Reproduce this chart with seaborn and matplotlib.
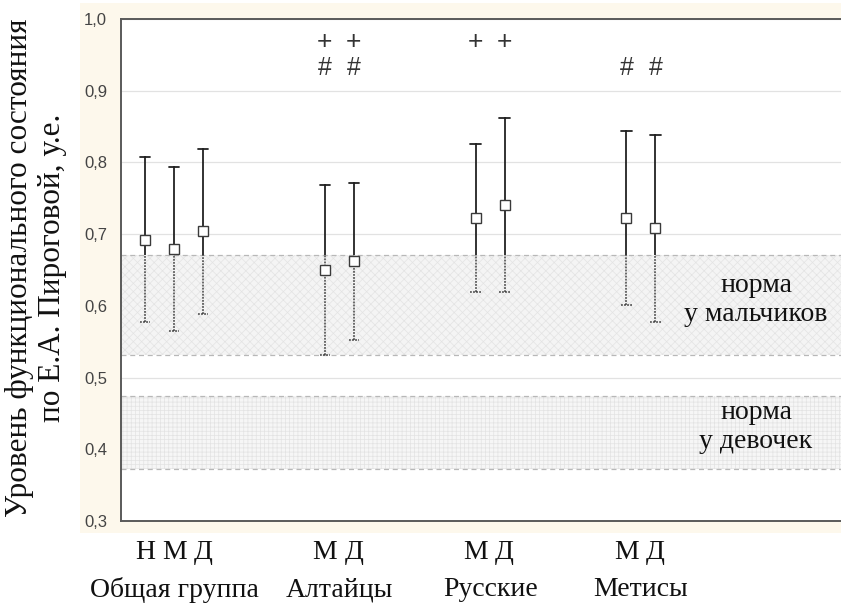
import numpy as np
import pandas as pd
import matplotlib
matplotlib.use("Agg")
import matplotlib.pyplot as plt
from matplotlib.lines import Line2D
from matplotlib.patches import Rectangle
import seaborn as sns

# ---- data -------------------------------------------------------------
groups = ["Общая группа", "Общая группа", "Общая группа",
          "Алтайцы", "Алтайцы", "Русские", "Русские", "Метисы", "Метисы"]
sexes = ["Н", "М", "Д", "М", "Д", "М", "Д", "М", "Д"]
means = [0.692, 0.679, 0.705, 0.650, 0.662, 0.723, 0.741, 0.723, 0.708]
lower = [0.577, 0.565, 0.588, 0.531, 0.552, 0.619, 0.619, 0.601, 0.578]
upper = [0.807, 0.794, 0.819, 0.768, 0.771, 0.826, 0.862, 0.844, 0.838]
marks_plus = ["", "", "", "+", "+", "+", "+", "", ""]
marks_hash = ["", "", "", "#", "#", "", "", "#", "#"]
group_names = ["Общая группа", "Алтайцы", "Русские", "Метисы"]

norm_boys = (0.531, 0.671)
norm_girls = (0.372, 0.475)
y_ticks = [0.3, 0.4, 0.5, 0.6, 0.7, 0.8, 0.9, 1.0]

# ---- positions: one slot per item, extra gap between groups -------------
group_idx = [group_names.index(g) for g in groups]
pos = [i + 3.2 * g for i, g in enumerate(group_idx)]

rows = []
for p, lo, m, hi in zip(pos, lower, means, upper):
    for v in (lo, m, hi):
        rows.append({"pos": p, "value": v})
df = pd.DataFrame(rows)

# ---- figure -------------------------------------------------------------
sns.set_theme(style="white")
plt.rcParams["font.family"] = ["Liberation Sans", "DejaVu Sans"]
plt.rcParams["hatch.color"] = "#e3e3e3"
plt.rcParams["hatch.linewidth"] = 0.5
W, H = 841, 608
fig = plt.figure(figsize=(W / 100, H / 100), dpi=100)
fig.patch.set_facecolor("white")
fig.patch.set_linewidth(0)

# cream panel behind the axes
fig.patches.append(Rectangle((80 / W, (H - 533) / H), (W - 80) / W, 530 / H,
                             transform=fig.transFigure, facecolor="#fdf8ec",
                             edgecolor="none", linewidth=0, zorder=0))

# plotting area reaches the right border of the figure
right_px = 841
ax = fig.add_axes([121 / W, (H - 521) / H, (right_px - 121) / W, 502 / H])
ax.set_zorder(2)
ax.set_facecolor("white")
x_lo, x_hi = -0.83, (right_px - 145) / 29

# normative bands (drawn without side edges)
band_kw = dict(edgecolor="none", linewidth=0)
ax.axhspan(*norm_boys, facecolor="#f4f4f4", zorder=1, **band_kw)
ax.axhspan(*norm_boys, facecolor="none", hatch="xxxx", zorder=1,
           edgecolor="#e3e3e3", linewidth=0)
ax.axhspan(*norm_girls, facecolor="#f6f6f6", zorder=1, **band_kw)
ax.axhspan(*norm_girls, facecolor="none", hatch="++++", zorder=1,
           edgecolor="#e3e3e3", linewidth=0)
for lo_hi in (norm_boys, norm_girls):
    for yv in lo_hi:
        ax.axhline(yv, color="#b8b8b8", linestyle=(0, (4, 3)), linewidth=0.9,
                   zorder=1.5)

# means with min/max whiskers (median of lower/mean/upper returns the mean)
sns.pointplot(data=df, x="pos", y="value", native_scale=True,
              estimator=np.median, errorbar=lambda v: (v.min(), v.max()),
              linestyle="none", marker="s", markersize=6.5,
              markerfacecolor="white", markeredgecolor="#3a3a3a",
              markeredgewidth=1.0, color="#222222", capsize=0.36,
              err_kws={"linewidth": 1.3}, ax=ax, zorder=4)

# whiskers are drawn solid above the boys' norm band and dotted inside it
solid_clip = Rectangle((x_lo, norm_boys[1]), x_hi - x_lo, 1.0,
                       transform=ax.transData)
dotted_clip = Rectangle((x_lo, 0.0), x_hi - x_lo, norm_boys[1],
                        transform=ax.transData)
for ln in list(ax.lines):
    if ln.get_marker() in ("None", "", None, " ") and len(ln.get_xdata()) > 2:
        xd, yd = ln.get_xdata(), ln.get_ydata()
        ln.set_clip_path(solid_clip)
        ln.set_zorder(3)
        dot = Line2D(xd, yd, color="#444444", linewidth=1.1,
                     linestyle=(0, (1.2, 0.8)), zorder=3)
        ax.add_line(dot)
        dot.set_clip_path(dotted_clip)
    elif ln.get_marker() == "s":
        ln.set_markerfacecolor("white")
        ln.set_zorder(5)

# significance marks
for p, sp, sh in zip(pos, marks_plus, marks_hash):
    if sp:
        ax.text(p, 0.968, sp, ha="center", va="center", fontsize=19,
                color="#333333")
    if sh:
        ax.text(p, 0.931, sh, ha="center", va="center", fontsize=18,
                color="#333333")

# band captions
serif = ["Liberation Serif", "DejaVu Serif"]
ax.text(21.07, 0.608, "норма\nу мальчиков", ha="center", va="center",
        fontsize=20, family=serif, linespacing=1.2, color="#111111")
ax.text(21.07, 0.431, "норма\nу девочек", ha="center", va="center",
        fontsize=20, family=serif, linespacing=1.2, color="#111111")

# axes styling
ax.set_xlim(x_lo, x_hi)
ax.set_ylim(0.3, 1.0)
ax.set_yticks(y_ticks)
ax.set_yticklabels([f"{t:.1f}".replace(".", ",") for t in y_ticks],
                   fontsize=12, color="#444444")
ax.yaxis.grid(True, color="#e2e2e2", linewidth=0.9)
ax.xaxis.grid(False)
ax.set_axisbelow(True)
ax.tick_params(axis="y", direction="in", length=4, width=1, color="#555555",
               pad=10)
for side in ("left", "top", "bottom"):
    ax.spines[side].set_color("#5a5a5a")
    ax.spines[side].set_linewidth(1.4)
ax.spines["right"].set_visible(False)

# category letters as x tick labels, group names beneath
ax.set_xticks(pos)
ax.set_xticklabels(sexes, fontsize=20, family=serif, color="#111111")
ax.tick_params(axis="x", length=0, pad=14)
ax.set_xlabel("")
ax.set_ylabel("")
for gi, name in enumerate(group_names):
    members = [p for p, g in zip(pos, group_idx) if g == gi]
    ax.text(np.mean(members), -0.137, name, transform=ax.get_xaxis_transform(),
            ha="center", va="center", fontsize=20, family=serif,
            color="#111111")

fig.text(36 / W, (H - 268) / H,
         "Уровень функционального состояния\nпо Е.А. Пироговой, у.е.",
         rotation=90, ha="center", va="center", fontsize=22.5, family=serif,
         linespacing=1.22, color="#111111")

fig.savefig("out.png", dpi=100, facecolor="white")
